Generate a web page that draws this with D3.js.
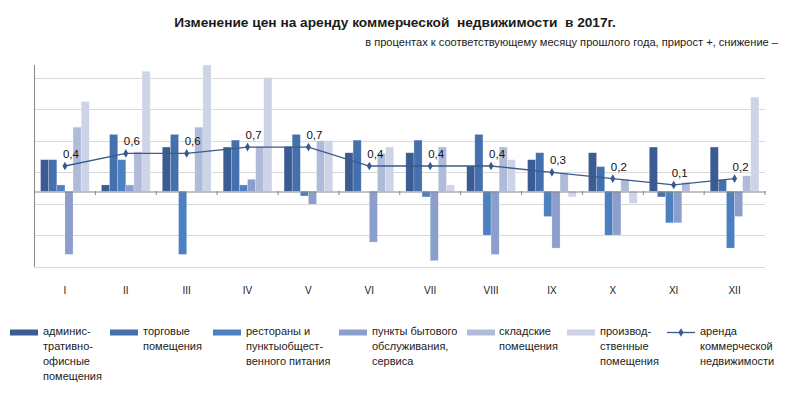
<!DOCTYPE html>
<html>
<head>
<meta charset="utf-8">
<script src="https://cdn.jsdelivr.net/npm/d3@7"></script>
<style>
  body { margin: 0; background: #fff; }
  text { font-family: "Liberation Sans", Arial, sans-serif; }
</style>
</head>
<body>
<div id="chart"></div>
<script>
var months = ["I","II","III","IV","V","VI","VII","VIII","IX","X","XI","XII"];

var seriesNames = [
    ["админис-","тративно-","офисные","помещения"],
    ["торговые","помещения"],
    ["рестораны и","пунктыобщест-","венного питания"],
    ["пункты бытового","обслуживания,","сервиса"],
    ["складские","помещения"],
    ["производ-","ственные","помещения"]
];
var lineName = ["аренда","коммерческой","недвижимости"];

// значения столбцов (читаются с картинки)
var office      = [1.0, 0.2, 1.4, 1.4, 1.42, 1.22, 1.22, 0.8, 1.0, 1.22, 1.4, 1.4];
var trade       = [1.0, 1.8, 1.8, 1.62, 1.8, 1.62, 1.62, 1.8, 1.22, 0.78, -0.18, 0.36];
var restaurants = [0.2, 1.0, -2.0, 0.2, -0.15, 0, -0.18, -1.39, -0.8, -1.39, -1.0, -1.8];
var services    = [-2.0, 0.2, 0, 0.38, -0.41, -1.61, -2.2, -2.0, -1.8, -1.39, -1.0, -0.8];
var warehouse   = [2.03, 1.25, 2.03, 1.42, 1.6, 1.2, 1.4, 1.4, 0.6, 0.38, 0.28, 0.49];
var production  = [2.84, 3.8, 4.0, 3.6, 1.6, 1.4, 0.2, 1.0, -0.18, -0.38, 0, 2.98];

// аренда коммерческой недвижимости (вспомогательная ось)
var rent = [0.4, 0.6, 0.6, 0.7, 0.7, 0.4, 0.4, 0.4, 0.3, 0.2, 0.1, 0.2];

var gridValues = [-2.4, -1.4, -0.4, 0.6, 1.6, 2.6, 3.6];

var colors = ["#3b5c92", "#4470ad", "#4d80c0", "#8c9fcc", "#afbbd9", "#cdd4e7"];
var lineColor = "#3a5a8c";

var width = 800, height = 398;
var plot = {left: 34.5, right: 765, top: 65, bottom: 267};

var svg = d3.select("#chart").append("svg")
    .attr("width", width)
    .attr("height", height);

var table = months.map(function(m, i) {
    return {month: m, values: [office[i], trade[i], restaurants[i], services[i], warehouse[i], production[i]], rent: rent[i]};
});

var x0 = d3.scaleBand()
    .domain(months)
    .range([plot.left, plot.right])
    .paddingInner(0.2)
    .paddingOuter(0.1);

var x1 = d3.scaleBand()
    .domain(d3.range(6))
    .range([0, x0.bandwidth()]);

var y = d3.scaleLinear()
    .domain([-2.4, 4.0])
    .range([plot.bottom, plot.top]);

var yLine = d3.scaleLinear()
    .domain([-1.2, 2.0])
    .range([plot.bottom, plot.top]);

// title
svg.append("text")
    .attr("x", 395)
    .attr("y", 27)
    .attr("text-anchor", "middle")
    .attr("xml:space", "preserve")
    .style("font-size", "13.7px")
    .style("font-weight", "bold")
    .style("fill", "#1a1a1a")
    .text("Изменение цен на аренду коммерческой  недвижимости  в 2017г.");

svg.append("text")
    .attr("x", 778)
    .attr("y", 46)
    .attr("text-anchor", "end")
    .style("font-size", "11.1px")
    .style("fill", "#1a1a1a")
    .text("в процентах к соответствующему месяцу прошлого года, прирост +, снижение –");

// grid
svg.selectAll(".grid")
    .data(gridValues)
    .enter().append("line")
    .attr("class", "grid")
    .attr("x1", plot.left)
    .attr("x2", plot.right)
    .attr("y1", function(d) { return Math.round(y(d)) + 0.5; })
    .attr("y2", function(d) { return Math.round(y(d)) + 0.5; })
    .style("stroke", "#d9d9d9")
    .style("stroke-width", 1.2);

// bars
var groups = svg.selectAll(".month")
    .data(table)
    .enter().append("g")
    .attr("class", "month")
    .attr("transform", function(d) { return "translate(" + x0(d.month) + ",0)"; });

groups.selectAll("rect")
    .data(function(d) { return d.values.map(function(v, k) { return {k: k, v: v}; }); })
    .enter().append("rect")
    .attr("x", function(d) { return x1(d.k); })
    .attr("width", x1.bandwidth())
    .attr("y", function(d) { return y(Math.max(0, d.v)); })
    .attr("height", function(d) { return Math.abs(y(d.v) - y(0)); })
    .style("fill", function(d) { return colors[d.k]; })
    .style("stroke", "rgba(255,255,255,0.35)")
    .style("stroke-width", 0.6);

// y axis line
svg.append("line")
    .attr("x1", plot.left).attr("x2", plot.left)
    .attr("y1", plot.top).attr("y2", plot.bottom)
    .style("stroke", "#868686");

// x axis at zero
var xAxis = d3.axisBottom(x0).tickSize(0).tickFormat("");
svg.append("g")
    .attr("transform", "translate(0," + (Math.round(y(0)) + 0.5) + ")")
    .call(xAxis)
    .call(function(g) { g.select(".domain").style("stroke", "#868686"); });

// tick marks between categories
var step = x0.step();
svg.selectAll(".tick-mark")
    .data(months)
    .enter().append("line")
    .attr("class", "tick-mark")
    .attr("x1", function(d) { return x0(d) + x0.bandwidth() + step * 0.1; })
    .attr("x2", function(d) { return x0(d) + x0.bandwidth() + step * 0.1; })
    .attr("y1", Math.round(y(0)))
    .attr("y2", Math.round(y(0)) + 4)
    .style("stroke", "#868686");

// month labels
svg.selectAll(".mlabel")
    .data(months)
    .enter().append("text")
    .attr("class", "mlabel")
    .attr("x", function(d) { return x0(d) + x0.bandwidth() / 2; })
    .attr("y", 294)
    .attr("text-anchor", "middle")
    .style("font-size", "10px")
    .style("fill", "#222")
    .text(function(d) { return d; });

// line
var line = d3.line()
    .x(function(d) { return x0(d.month) + x0.bandwidth() / 2; })
    .y(function(d) { return yLine(d.rent); });

svg.append("path")
    .datum(table)
    .attr("d", line)
    .style("fill", "none")
    .style("stroke", lineColor)
    .style("stroke-width", 1.3);

var diamond = d3.symbol().type(d3.symbolDiamond).size(22);

svg.selectAll(".pt")
    .data(table)
    .enter().append("path")
    .attr("class", "pt")
    .attr("d", diamond)
    .attr("transform", function(d) { return "translate(" + (x0(d.month) + x0.bandwidth() / 2) + "," + yLine(d.rent) + ")"; })
    .style("fill", lineColor);

svg.selectAll(".vlabel")
    .data(table)
    .enter().append("text")
    .attr("class", "vlabel")
    .attr("x", function(d) { return x0(d.month) + x0.bandwidth() / 2 - 2; })
    .attr("y", function(d) { return yLine(d.rent) - 8; })
    .style("font-size", "11.5px")
    .style("fill", "#111")
    .text(function(d) { return d3.format(".1f")(d.rent).replace(".", ","); });

// legend
var legendX = [10, 110, 213, 339, 467, 567, 667];
var textX = [43, 143, 246, 372, 499, 600, 700];

seriesNames.forEach(function(lines, k) {
    svg.append("rect")
        .attr("x", legendX[k])
        .attr("y", 329.5)
        .attr("width", 28)
        .attr("height", 6)
        .style("fill", colors[k]);
    var t = svg.append("text")
        .attr("x", textX[k])
        .attr("y", 335)
        .style("font-size", "11px")
        .style("fill", "#222");
    t.selectAll("tspan")
        .data(lines)
        .enter().append("tspan")
        .attr("x", textX[k])
        .attr("dy", function(d, i) { return i === 0 ? 0 : 15; })
        .text(function(d) { return d; });
});

svg.append("line")
    .attr("x1", legendX[6]).attr("x2", legendX[6] + 28)
    .attr("y1", 332.5).attr("y2", 332.5)
    .style("stroke", lineColor)
    .style("stroke-width", 1.3);
svg.append("path")
    .attr("d", diamond)
    .attr("transform", "translate(" + (legendX[6] + 14) + ",332.5)")
    .style("fill", lineColor);

var lt = svg.append("text")
    .attr("x", textX[6])
    .attr("y", 335)
    .style("font-size", "11px")
    .style("fill", "#222");
lt.selectAll("tspan")
    .data(lineName)
    .enter().append("tspan")
    .attr("x", textX[6])
    .attr("dy", function(d, i) { return i === 0 ? 0 : 15; })
    .text(function(d) { return d; });
</script>
</body>
</html>
